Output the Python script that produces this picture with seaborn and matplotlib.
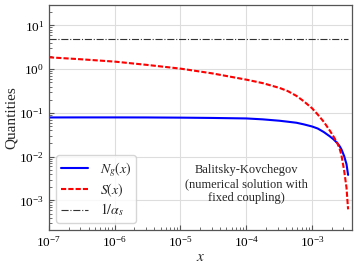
import numpy as np
import pandas as pd
import matplotlib
matplotlib.use('Agg')
import matplotlib.pyplot as plt
import seaborn as sns

# values
x_vals = [1e-7, 3e-7, 1e-6, 3e-6, 1e-5, 3e-5, 1e-4, 1.78e-4, 3.22e-4, 4.27e-4,
          5.8e-4, 7.48e-4, 1e-3, 1.22e-3, 1.51e-3, 1.86e-3, 2.14e-3, 2.42e-3,
          2.64e-3, 2.80e-3, 3.07e-3, 3.34e-3, 3.53e-3]
N_g = [0.0788, 0.079, 0.079, 0.0788, 0.078, 0.0768, 0.0748, 0.0713, 0.0662,
       0.063, 0.0596, 0.0548, 0.049, 0.0440, 0.0365, 0.0292, 0.0246, 0.0204,
       0.0172, 0.0147, 0.0104, 0.00673, 0.00383]
S_x = [1.87, 1.69, 1.49, 1.26, 1.03, 0.805, 0.577, 0.48, 0.372, 0.316, 0.245,
       0.185, 0.128, 0.092, 0.0625, 0.0395, 0.0283, 0.0205, 0.0148, 0.0107,
       0.0049, 0.00195, 0.000625]
inv_alpha = 5.0
x_line = [1e-7, 3.53e-3]

sns.set_style('whitegrid')
plt.rcParams['font.family'] = ['Liberation Serif', 'DejaVu Serif']
plt.rcParams['mathtext.fontset'] = 'stix'
plt.rcParams['font.size'] = 10

df = pd.DataFrame({'x': x_vals, 'N': N_g, 'S': S_x})

fig = plt.figure(figsize=(3.57, 2.70), dpi=100)
ax = fig.add_axes([0.137, 0.148, 0.850, 0.835])

sns.lineplot(data=df, x='x', y='N', ax=ax, color='#0000ff', lw=1.5,
             label=r'$N_g(x)$')
sns.lineplot(data=df, x='x', y='S', ax=ax, color='#ff0000', lw=1.5,
             label=r'$S(x)$')
ax.lines[-1].set_dashes((2.5, 1.0))
ax.plot(x_line, [inv_alpha, inv_alpha], color='#333333', lw=0.8, ls='-.',
        label=r'$1/\alpha_s$')

ax.set_xscale('log')
ax.set_yscale('log')
ax.set_xlim(1e-7, 4.1e-3)
ax.set_ylim(2.1e-4, 30)
ax.set_xlabel(r'$x$', fontsize=11, labelpad=1)
ax.set_ylabel('Quantities', fontsize=11, labelpad=1)

ax.grid(True, which='major', color='#dddddd', lw=0.8)
ax.grid(False, which='minor')
for sp in ax.spines.values():
    sp.set_color('#555555')
    sp.set_linewidth(0.9)
ax.tick_params(which='both', direction='in', left=True, bottom=True,
               top=False, right=False, colors='#555555', labelcolor='black',
               labelsize=9.5)
ax.tick_params(which='major', length=3.5)
ax.tick_params(which='minor', length=2)

ax.text(0.651, 0.204, 'Balitsky-Kovchegov\n(numerical solution with\nfixed coupling)',
        transform=ax.transAxes, ha='center', va='center', fontsize=9)

ax.legend(loc='lower left', fontsize=10, frameon=True, labelspacing=0.2,
          borderpad=0.35)

fig.savefig('out.png', dpi=100)
